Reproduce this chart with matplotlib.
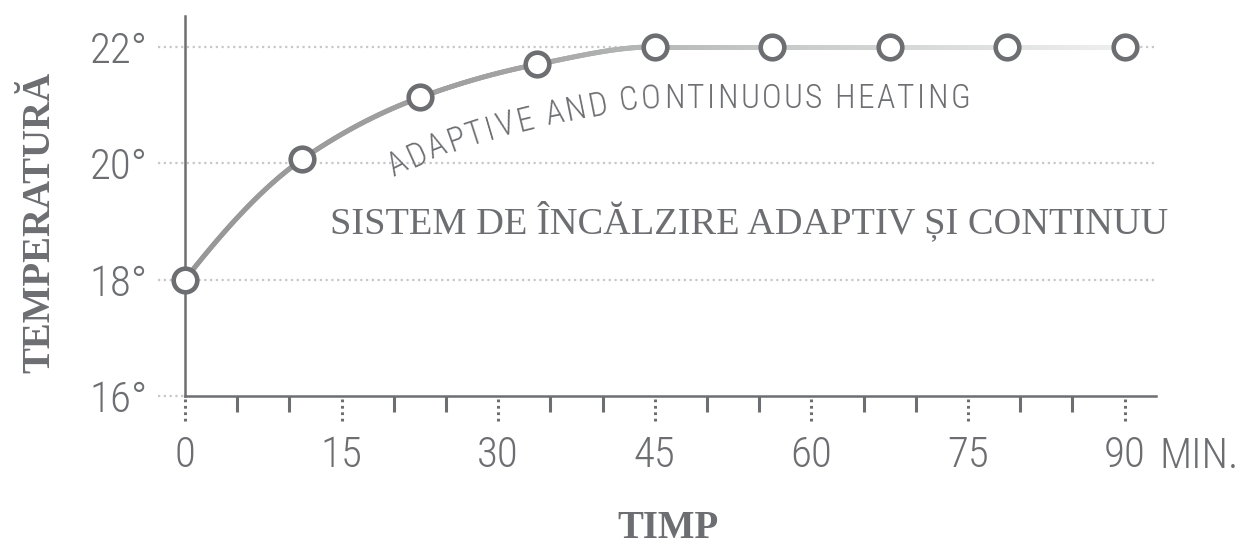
import numpy as np
import matplotlib
matplotlib.use("Agg")
import matplotlib.pyplot as plt
from matplotlib.collections import LineCollection
from matplotlib.colors import LinearSegmentedColormap
from matplotlib.font_manager import FontProperties
import matplotlib.transforms as mtransforms

# Data
minutes = [0, 11.25, 22.5, 33.75, 45, 56.25, 67.5, 78.75, 90]
temps = [18.0, 20.07, 21.13, 21.70, 22.0, 22.0, 22.0, 22.0, 22.0]
x_major = [0, 15, 30, 45, 60, 75, 90]
x_minor = [5, 10, 20, 25, 35, 40, 50, 55, 65, 70, 80, 85]
y_ticks = [16, 18, 20, 22]
y_labels = ['16°', '18°', '20°', '22°']
curve_label = 'ADAPTIVE AND CONTINUOUS HEATING'
center_label = 'SISTEM DE ÎNCĂLZIRE ADAPTIV ȘI CONTINUU'
x_title = 'TIMP'
y_title = 'TEMPERATURĂ'
unit_label = 'MIN.'

GREY = '#6d6e71'
GRID = '#c8c8c8'
COND = ['Roboto Condensed', 'Liberation Sans Narrow', 'Roboto', 'DejaVu Sans']
SERIF = ['Liberation Serif', 'DejaVu Serif']


def pchip(x, y, xs):
    # monotone cubic, only used to draw a smooth line through the points
    x = np.asarray(x, float)
    y = np.asarray(y, float)
    h = np.diff(x)
    d = np.diff(y) / h
    m = np.zeros_like(y)
    for k in range(1, len(x) - 1):
        if d[k - 1] * d[k] > 0:
            w1 = 2 * h[k] + h[k - 1]
            w2 = h[k] + 2 * h[k - 1]
            m[k] = (w1 + w2) / (w1 / d[k - 1] + w2 / d[k])
    m[0] = ((2 * h[0] + h[1]) * d[0] - h[0] * d[1]) / (h[0] + h[1])
    m[-1] = 0.0
    idx = np.clip(np.searchsorted(x, xs) - 1, 0, len(x) - 2)
    t = (xs - x[idx]) / h[idx]
    h00 = 2 * t**3 - 3 * t**2 + 1
    h10 = t**3 - 2 * t**2 + t
    h01 = -2 * t**3 + 3 * t**2
    h11 = t**3 - t**2
    return h00 * y[idx] + h10 * h[idx] * m[idx] + h01 * y[idx + 1] + h11 * h[idx] * m[idx + 1]


fig = plt.figure(figsize=(12.41, 5.45), dpi=100)
ax = fig.add_axes([185 / 1241, 149 / 545, 971 / 1241, 380 / 545])
ax.set_xlim(0, 93)
ax.set_ylim(16, 22.53)

# dotted horizontal guides (reach a bit left of the axis)
for yv in y_ticks:
    right = 0 if yv == y_ticks[0] else 92.9
    ax.plot([-2.6, right], [yv, yv], color=GRID, lw=1.6, ls=(0, (1, 1.6)),
            clip_on=False, zorder=1)

# gradient line
xs = np.linspace(minutes[0], minutes[-1], 600)
ys = pchip(minutes, temps, xs)
pts = np.column_stack([xs, ys]).reshape(-1, 1, 2)
segs = np.concatenate([pts[:-1], pts[1:]], axis=1)
cmap = LinearSegmentedColormap.from_list(
    'fade', [(0, '#979797'), (0.35, '#a3a3a3'), (0.6, '#c4c6c6'), (1.0, '#efefef')])
lc = LineCollection(segs, cmap=cmap, linewidths=3.6, zorder=3, capstyle='round')
lc.set_array(xs[:-1] / xs[-1])
lc.set_clim(0, 1)
ax.add_collection(lc)

ax.plot(minutes, temps, 'o', ms=17, mfc='white', mec=GREY, mew=3.3,
        zorder=4, clip_on=False)

# spines and ticks
for s in ['top', 'right']:
    ax.spines[s].set_visible(False)
for s in ['left', 'bottom']:
    ax.spines[s].set_color(GREY)
    ax.spines[s].set_linewidth(1.8)
    ax.spines[s].set_zorder(2)

tick_font = FontProperties(family=COND, size=31, weight='light')
ax.set_xticks(x_major)
ax.set_xticklabels([str(v) for v in x_major], fontproperties=tick_font, color=GREY)
ax.set_xticks(x_minor, minor=True)
ax.set_yticks(y_ticks)
ax.set_yticklabels(y_labels, fontproperties=tick_font, color=GREY)
ax.tick_params(axis='x', which='major', length=0, pad=28)
ax.tick_params(axis='x', which='minor', length=11.5, width=2.2, color=GREY)
ax.tick_params(axis='y', length=0, pad=27)

# dotted major ticks
trans = mtransforms.blended_transform_factory(ax.transData, ax.transAxes)
for xv in x_major:
    ax.plot([xv, xv], [-0.008, -0.071], transform=trans, color=GREY, lw=2.2,
            ls=(0, (0.9, 1.2)), clip_on=False)

fig.text(1239 / 1241, 1 - 468 / 545, unit_label, fontproperties=tick_font,
         color=GREY, ha='right', va='baseline')

# titles
fig.text(40 / 1241, 1 - 222 / 545, y_title, rotation=90, ha='center', va='center',
         family=SERIF, weight='bold', size=28, color=GREY)
fig.text(668 / 1241, 7 / 545, x_title, ha='center', va='baseline',
         family=SERIF, weight='bold', size=28, color=GREY)
ax.text(54.0, 18.80, center_label, ha='center', va='baseline',
        family=SERIF, size=27.6, color=GREY)

# text bent along the curve
renderer = fig.canvas.get_renderer()
cprop = FontProperties(family=COND, size=24, weight='light')
xd = np.linspace(0, 90, 3000)
disp = ax.transData.transform(np.column_stack([xd, pchip(minutes, temps, xd)]))
dx = np.gradient(disp[:, 0])
dy = np.gradient(disp[:, 1])
nrm = np.hypot(dx, dy)
nx, ny = dy / nrm, -dx / nrm
frac = np.clip((disp[:, 0] - 393) / (970 - 393), 0, 1)
off = 62 - 1 * frac
base = disp + np.column_stack([nx * off, ny * off])
arc = np.concatenate([[0], np.cumsum(np.hypot(np.diff(base[:, 0]), np.diff(base[:, 1])))])
i0 = np.searchsorted(base[:, 0], 393)
i1 = np.searchsorted(base[:, 0], 970)
s0, s1 = arc[i0], arc[i1]


def text_w(s):
    return renderer.get_text_width_height_descent(s, cprop, ismath=False)[0]


space_w = text_w('A A') - text_w('AA')
widths = [space_w if c == ' ' else text_w(c) for c in curve_label]
track = (s1 - s0 - sum(widths)) / (len(curve_label) - 1)
bx = np.gradient(base[:, 0])
by = np.gradient(base[:, 1])
pos = s0
for c, w in zip(curve_label, widths):
    px = np.interp(pos, arc, base[:, 0])
    py = np.interp(pos, arc, base[:, 1])
    ang = np.degrees(np.arctan2(np.interp(pos, arc, by), np.interp(pos, arc, bx)))
    dxy = ax.transData.inverted().transform((px, py))
    if c != ' ':
        ax.text(dxy[0], dxy[1], c, fontproperties=cprop, color=GREY, rotation=ang,
                rotation_mode='anchor', ha='left', va='baseline', zorder=5)
    pos += w + track

fig.savefig('out.png', dpi=100)
